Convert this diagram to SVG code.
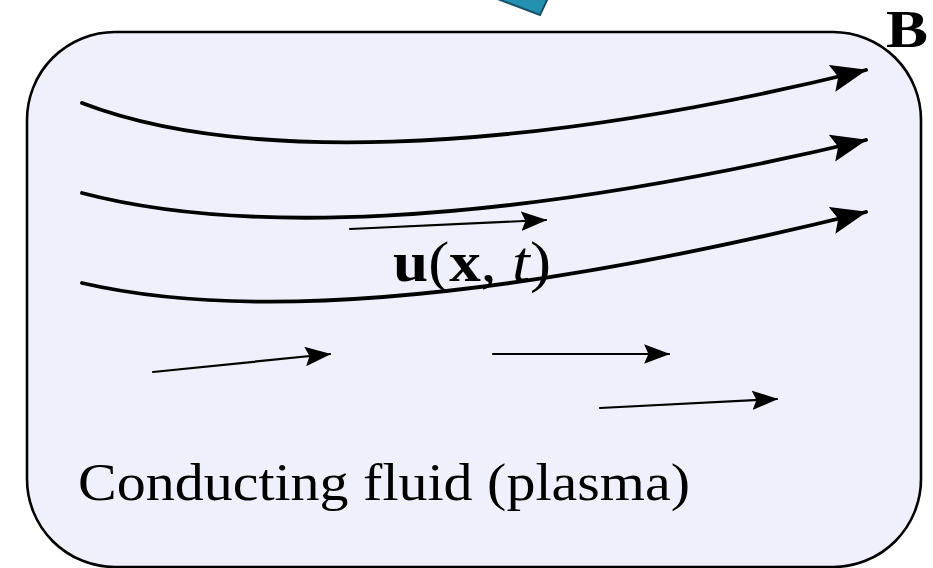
<svg xmlns="http://www.w3.org/2000/svg" width="933" height="568" viewBox="0 0 933 568">
  <style>
    .thick { fill: none; stroke: #000; stroke-width: 3.8; stroke-linecap: round; }
    .thin { fill: none; stroke: #000; stroke-width: 2.2; stroke-linecap: round; }
    .lbl { font-family: "Liberation Serif", "DejaVu Serif", serif; fill: #000; }
  </style>
  <defs>
    <marker id="headBig" markerUnits="userSpaceOnUse" markerWidth="36" markerHeight="28" viewBox="0 0 34 26" refX="33" refY="13" orient="auto">
      <path d="M0,0 L34,13 L0,26 L6,13 Z" fill="#000"/>
    </marker>
    <marker id="headSmall" markerUnits="userSpaceOnUse" markerWidth="26" markerHeight="20" viewBox="0 0 24 18" refX="23" refY="9" orient="auto">
      <path d="M0,0 L24,9 L0,18 L4,9 Z" fill="#000"/>
    </marker>
  </defs>
  <rect width="933" height="568" fill="#fff"/>
  <g id="pointer">
    <polygon points="495,-2 540,15 548,-2" fill="#2590b0" stroke="#16506a" stroke-width="2"/>
  </g>
  <g id="fluid">
    <rect x="27" y="32" width="894" height="535" rx="88" ry="88" fill="#f0f0fd" stroke="#000" stroke-width="2.6"/>
    <text class="lbl" x="78" y="500" font-size="53" textLength="612" lengthAdjust="spacingAndGlyphs">Conducting fluid (plasma)</text>
  </g>
  <g id="connectors">
    <path class="thick" d="M82,103 C230,160 500,160 866,70" marker-end="url(#headBig)"/>
    <path class="thick" d="M82,193 C230,232 480,232 866,140" marker-end="url(#headBig)"/>
    <path class="thick" d="M82,283 C220,315 450,315 866,212" marker-end="url(#headBig)"/>
    <path class="thin" d="M350,229 L546,220" marker-end="url(#headSmall)"/>
    <path class="thin" d="M153,372 L330,354" marker-end="url(#headSmall)"/>
    <path class="thin" d="M493,354 L669,354" marker-end="url(#headSmall)"/>
    <path class="thin" d="M600,408 L777,399" marker-end="url(#headSmall)"/>
  </g>
  <g id="labels">
    <text class="lbl" x="393" y="281" font-size="56" textLength="158" lengthAdjust="spacingAndGlyphs"><tspan font-weight="bold">u</tspan>(<tspan font-weight="bold">x</tspan>, <tspan font-style="italic">t</tspan>)</text>
    <text class="lbl" x="886" y="47" font-size="52" font-weight="bold" textLength="42" lengthAdjust="spacingAndGlyphs">B</text>
  </g>
</svg>
